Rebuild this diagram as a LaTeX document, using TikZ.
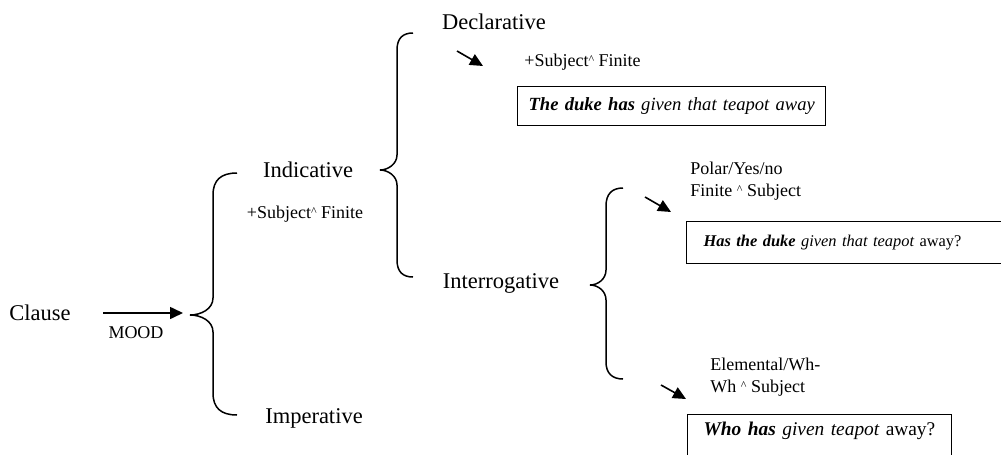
\documentclass[tikz,border=0pt]{standalone}
\usepackage{fontspec}
\setmainfont{Liberation Serif}[ItalicFont={Liberation Serif Italic},
  BoldItalicFont={Liberation Serif Bold Italic}]
\usetikzlibrary{arrows.meta,positioning}
\tikzset{
  term/.style={font=\fontsize{11.25}{13.5}\selectfont, inner sep=0pt},
  feat/.style={font=\fontsize{9}{11}\selectfont, inner sep=0pt, align=left},
  sentence/.style={draw, line width=0.6pt, anchor=north west, align=left,
    font=\fontsize{9.3}{11}\selectfont\itshape},
  brace/.style={line width=0.75pt},
  pointer/.style={line width=0.8pt, -{Triangle[length=6.5pt,width=6pt]}}
}
\newcommand{\ordhat}{\raisebox{1.2pt}{\fontsize{6}{6}\selectfont\textasciicircum}}
\newcommand{\bi}[1]{\textbf{#1}}

\begin{document}
\begin{tikzpicture}[x=0.5pt,y=-0.5pt]
\path[use as bounding box] (0,0) rectangle (1001,455);
\clip (0,0) rectangle (1001,455);

% first choice: MOOD
\node[term] (clause) at (40,313) {Clause};
\node[feat] (mood) at (136,333) {MOOD};
\coordinate (b1tip) at (190,315);
\draw[brace] (237,173) .. controls (221,173) and (213,180) .. (213,195) -- (213,298)
  .. controls (213,309) and (201,315) .. (b1tip)
  .. controls (201,315) and (213,321) .. (213,332) -- (213,393)
  .. controls (213,408) and (221,415) .. (237,415);
\draw[pointer] ([xshift=16pt]clause.east) -- ([xshift=-3.5pt]clause.east -| b1tip);

\node[term] (indic) at (308,170) {Indicative};
\node[feat] (indsub) at (305,214) {+Subject\ordhat\ Finite};
\node[term] (imper) at (314,418) {Imperative};

% indicative
\coordinate (b2tip) at (380,170);
\draw[brace] (413,33) .. controls (403,33) and (397,38) .. (397,50) -- (397,155)
  .. controls (397,164) and (388,170) .. (b2tip)
  .. controls (388,170) and (397,176) .. (397,185) -- (397,260)
  .. controls (397,272) and (403,277) .. (413,277);

\node[term] (decl) at (494,22) {Declarative};
\coordinate (da1) at (457,51);
\coordinate (da2) at (483,66);
\draw[pointer] (da1) -- (da2);
\node[feat, anchor=west] (declsub) at (524,62) {+Subject\ordhat\ Finite};
\node[sentence, text width=143pt, inner xsep=5.5pt, minimum height=19.5pt] (declbox) at (517,86)
  {\mbox{\bi{The duke has} given that teapot away}};

\node[term] (interr) at (501,283) {Interrogative};

% interrogative
\coordinate (b3tip) at (590,285);
\draw[brace] (623,188) .. controls (612,188) and (606,194) .. (606,206) -- (606,270)
  .. controls (606,279) and (598,285) .. (b3tip)
  .. controls (598,285) and (606,291) .. (606,300) -- (606,362)
  .. controls (606,373) and (612,379) .. (623,379);

\node[feat, anchor=west] (polar) at (690,181) {Polar/Yes/no\\Finite \ordhat\ Subject};
\coordinate (pa1) at (645,197);
\coordinate (pa2) at (671,212);
\draw[pointer] (pa1) -- (pa2);
\node[sentence, font=\fontsize{8.2}{10}\selectfont\itshape, text width=150pt, inner xsep=8.5pt,
  minimum height=21pt] (polarbox) at (686,221)
  {\bi{Has the duke} given that teapot \upshape away?};

\node[feat, anchor=west] (wh) at (710,377) {Elemental/Wh-\\Wh \ordhat\ Subject};
\coordinate (wa1) at (661,385);
\coordinate (wa2) at (686,399);
\draw[pointer] (wa1) -- (wa2);
\node[sentence, font=\fontsize{9.7}{11}\selectfont\itshape, text width=116pt, inner xsep=8pt,
  inner ysep=3.5pt, text depth=22pt] (whbox) at (687,414)
  {\bi{Who has} given teapot \upshape away?};

\end{tikzpicture}
\end{document}
